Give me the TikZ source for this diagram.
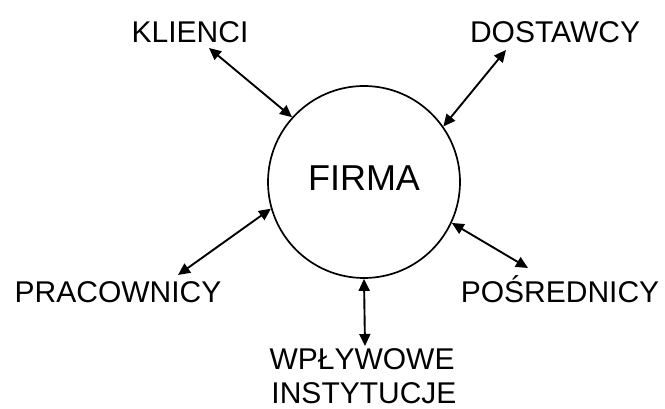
\documentclass[tikz,border=0pt]{standalone}
\usepackage{fontspec}
\setmainfont{Liberation Sans}
\usetikzlibrary{arrows.meta}
\begin{document}
\begin{tikzpicture}[x=1pt,y=-1pt,
  lbl/.style={anchor=base,inner sep=0pt,font=\fontsize{30}{36}\selectfont},
  link/.style={line width=1.9pt,{Triangle[length=12pt,width=11pt]}-{Triangle[length=12pt,width=11pt]}}]
\useasboundingbox[fill=white] (0,0) rectangle (665,409);
\node[circle,draw,line width=1.7pt,minimum size=192pt,inner sep=0pt] (firma) at (364,182) {};
\node[anchor=base,inner sep=0pt,font=\fontsize{36}{40}\selectfont] (firmat) at (364,191) {FIRMA};
\node[lbl] (kl) at (190,43) {KLIENCI};
\node[lbl] (do) at (555,43) {DOSTAWCY};
\node[lbl] (pr) at (118,303) {PRACOWNICY};
\node[lbl] (po) at (560,302) {POŚREDNICY};
\node[lbl] (wp) at (362,370) {WPŁYWOWE};
\node[lbl] (in) at (364,403) {INSTYTUCJE};
\draw[link] ([shift={(19pt,-5pt)}]kl.base) -- (firma.138);
\draw[link] ([shift={(-49pt,-7pt)}]do.base) -- (firma.35);
\draw[link] ([shift={(60pt,28pt)}]pr.base) -- (firma.196);
\draw[link] ([shift={(-32pt,34pt)}]po.base) -- (firma.335);
\draw[link] ([shift={(3pt,24pt)}]wp.base) -- (firma.270);
\end{tikzpicture}
\end{document}
